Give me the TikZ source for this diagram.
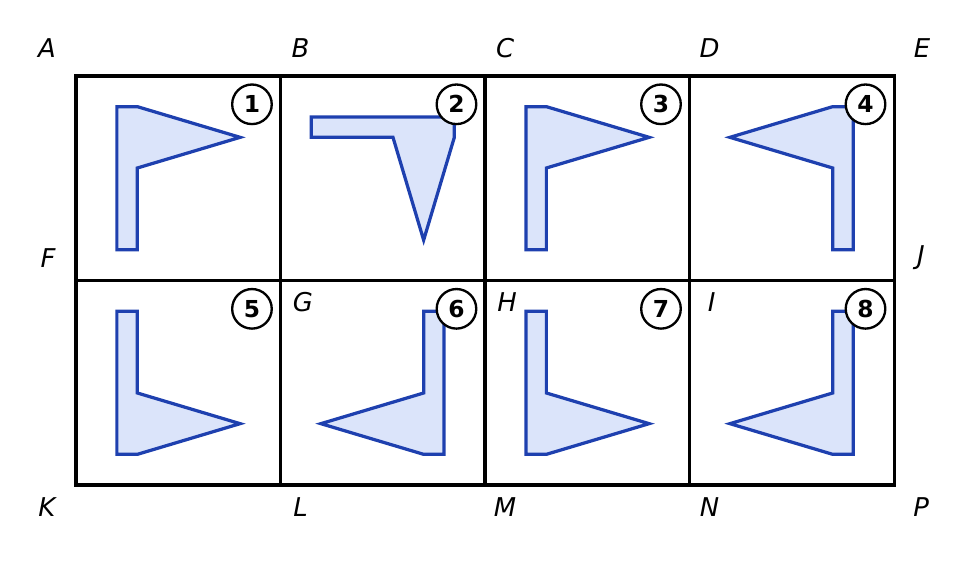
\documentclass[tikz,border=0pt]{standalone}
\usepackage{fontspec}
\setmainfont{DejaVu Sans}
\definecolor{flagblue}{RGB}{30,64,175}
\definecolor{flagfill}{RGB}{219,228,250}
\tikzset{
	flagshape/.style={draw=flagblue, fill=flagfill, line width=0.9pt, line join=miter},
	numcirc/.style={circle, draw, line width=0.65pt, fill=white, minimum size=0.387cm, inner sep=0pt, font=\fontsize{6.5}{7}\selectfont\bfseries},
	ptlabel/.style={font=\fontsize{7.2}{8}\selectfont\itshape, inner sep=0pt},
}
\begin{document}
\begin{tikzpicture}[every path/.style={line width=0.85pt}]
		\useasboundingbox (-0.743,-0.743) rectangle (8.733,4.743);
		% flags, one per cell: centre x/y, xscale, yscale, rotate, number
		\foreach \cx/\cy/\sx/\sy/\rot/\n in {1/3/1/1/0/1, 3/3/1/1/-90/2, 5/3/1/1/0/3, 7/3/-1/1/0/4, 1/1/1/-1/0/5, 3/1/-1/-1/0/6, 5/1/1/-1/0/7, 7/1/-1/-1/0/8} {
			\begin{scope}[shift={(\cx,\cy)}, xscale=\sx, yscale=\sy, rotate=\rot]
				\draw[flagshape] (-0.60,0.70) -- (-0.40,0.70) -- (0.605,0.40) -- (-0.40,0.10) -- (-0.40,-0.70) -- (-0.60,-0.70) -- cycle;
			\end{scope}
			\node[numcirc] (n\n) at (\cx+0.721,\cy+0.723) {\n};
		}
		% the board
		\draw (0,0) rectangle (8,4);
		\foreach \x in {2,4,6}
			\draw (\x,0) -- (\x,4);
		\draw (0,2) -- (8,2);
		% corner letters
		\foreach \name/\x/\y in {A/-0.284/4.277, B/2.196/4.277, C/4.196/4.277, D/6.196/4.277, E/8.274/4.277, F/-0.274/2.22, J/8.264/2.22, G/2.22/1.785, H/4.215/1.785, I/6.217/1.785, K/-0.284/-0.215, L/2.196/-0.215, M/4.196/-0.215, N/6.196/-0.215, P/8.264/-0.215}
			\node[ptlabel] (l\name) at (\x,\y) {\name};
	\end{tikzpicture}
\end{document}
